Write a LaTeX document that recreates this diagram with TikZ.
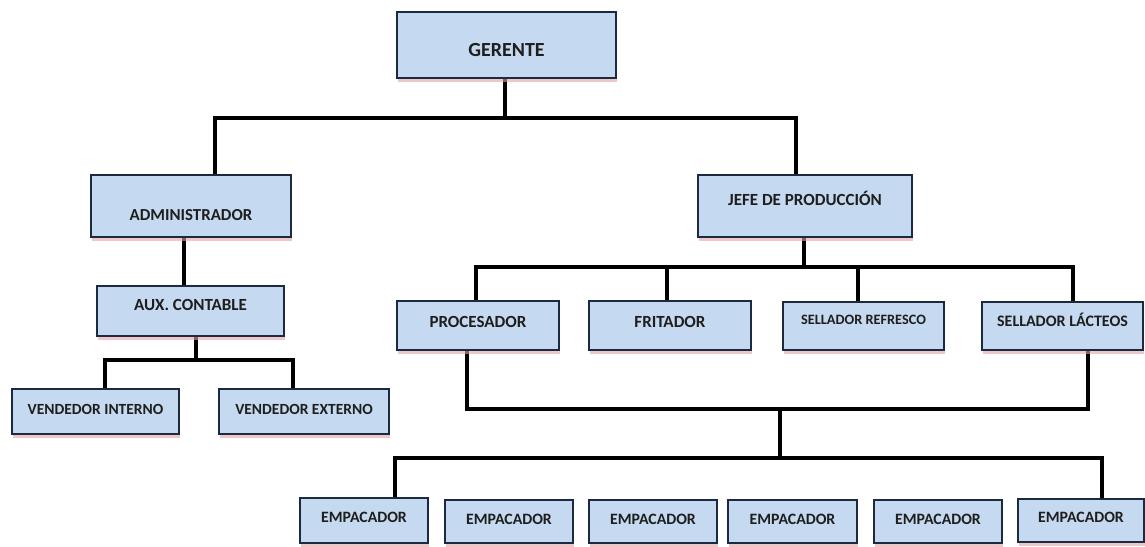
\documentclass[tikz,border=0pt]{standalone}
\usepackage{fontspec}
\setmainfont{Carlito}
\usetikzlibrary{calc,shadows}
\definecolor{boxfill}{HTML}{C5D9F0}
\definecolor{boxline}{HTML}{1B2A3E}
\definecolor{txtcol}{HTML}{1E1E1E}
\definecolor{shcol}{HTML}{E8A0A0}
\pgfdeclarelayer{back}
\pgfdeclarelayer{bg}
\pgfsetlayers{back,bg,main}
\newcommand{\obox}[8]{%
  \node[orgbox, minimum width={#4-#2}, minimum height={#5-#3}] (#1) at ({(#2+#4)/2},{(#3+#5)/2}) {};
  \node[orgtxt, font=\bfseries\fontsize{#8}{#8}\selectfont] (#1-t) at ({(#2+#4)/2},#7) {#6};
}
\begin{document}
\begin{tikzpicture}[x=1pt,y=-1pt,
  orgbox/.style={draw=boxline, line width=2pt, fill=boxfill, inner sep=0pt,
    drop shadow={shadow xshift=1pt, shadow yshift=-4pt, fill=shcol, opacity=0.6}},
  orgtxt/.style={inner sep=0pt, text=txtcol},
  conn/.style={line width=4pt, black, line cap=rect}]
\begin{pgfonlayer}{back}
\fill[white] (0,0) rectangle (1145,546);
\end{pgfonlayer}
\useasboundingbox (0,0) rectangle (1145,546);
\obox{ger}{397}{12}{616}{78}{GERENTE}{50}{20}
\obox{adm}{91}{175}{291}{237}{ADMINISTRADOR}{215}{16.8}
\obox{jefe}{698}{175}{912}{237}{JEFE DE PRODUCCIÓN}{198}{17}
\obox{aux}{97}{286}{284}{336}{AUX. CONTABLE}{305}{17}
\obox{vi}{12}{389}{179}{434}{VENDEDOR INTERNO}{409}{15.5}
\obox{ve}{219}{389}{389}{434}{VENDEDOR EXTERNO}{409}{15.5}
\obox{proc}{397}{301}{559}{350}{PROCESADOR}{322}{17}
\obox{frit}{589}{301}{751}{350}{FRITADOR}{322}{17}
\obox{sref}{783}{302}{944}{350}{SELLADOR REFRESCO}{320}{14.3}
\obox{slac}{982}{302}{1143}{350}{SELLADOR LÁCTEOS}{320}{16}
\obox{e1}{300}{498}{428}{543}{EMPACADOR}{517}{15.8}
\obox{e2}{445}{500}{573}{543}{EMPACADOR}{519}{15.8}
\obox{e3}{589}{500}{717}{543}{EMPACADOR}{519}{15.8}
\obox{e4}{728}{500}{857}{543}{EMPACADOR}{519}{15.8}
\obox{e5}{874}{500}{1002}{543}{EMPACADOR}{519}{15.8}
\obox{e6}{1018}{499}{1144}{542}{EMPACADOR}{517}{15.8}
\begin{pgfonlayer}{bg}
\draw[conn] ($(ger.south)+(-2,0)$) -- ++(0,39) coordinate (g1);
\draw[conn] ($(adm.north)+(24,0)$) |- (g1) -| ($(jefe.north)+(-9,0)$);
\draw[conn] ($(adm.south)+(-7,0)$) coordinate (a1) -- (a1 |- aux.north);
\draw[conn] ($(aux.south)+(5.5,0)$) -- ++(0,23) coordinate (x1);
\draw[conn] ($(vi.north)+(9.5,0)$) |- (x1) -| ($(ve.north)+(-11,0)$);
\draw[conn] ($(jefe.south)+(-1,0)$) -- ++(0,29) coordinate (j1);
\draw[conn] ($(proc.north)+(-2,0)$) |- (j1) -| ($(slac.north)+(10.5,0)$);
\draw[conn] ($(frit.north)+(-3,0)$) coordinate (f1) -- (f1 |- j1);
\draw[conn] ($(sref.north)+(-5.5,0)$) coordinate (s1) -- (s1 |- j1);
\coordinate (m) at (780,409);
\draw[conn] ($(proc.south)+(-11,0)$) |- (m) -| ($(slac.south)+(25.5,0)$);
\draw[conn] (m) -- ++(0,49) coordinate (m2);
\draw[conn] ($(e1.north)+(31,0)$) |- (m2) -| ($(e6.north)+(21,0)$);
\end{pgfonlayer}
\end{tikzpicture}
\end{document}
